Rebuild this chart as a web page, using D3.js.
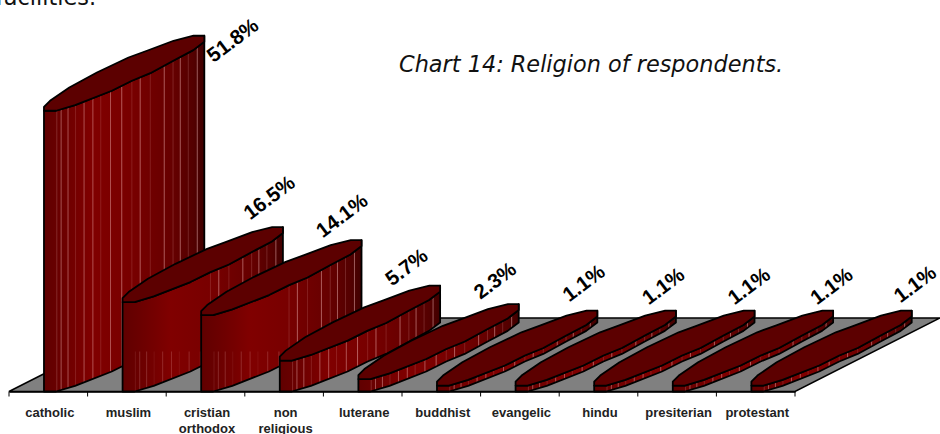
<!DOCTYPE html>
<html lang="en">
<head>
	<meta charset="UTF-8">
	<title>Chart 14</title>
	<style>
		html,body{margin:0;padding:0;background:#fff;overflow:hidden;}
		svg{display:block;}
	</style>
</head>
<body>
<script src="https://cdn.jsdelivr.net/npm/d3@7/dist/d3.min.js"></script>
<script>
	var categories=['catholic','muslim','cristian orthodox','non religious','luterane','buddhist','evangelic','hindu','presiterian','protestant'];
	var shares=[51.8,16.5,14.1,5.7,2.3,1.1,1.1,1.1,1.1,1.1];

	var width=940;
	var height=434;

	// floor of the 3d plot
	var floorFront=391.5;
	var floorBack=318;
	var floorSkew=145;

	var svg=d3.select('body')
			.append('svg')
			.attr('width',width)
			.attr('height',height);

	var xScale=d3.scaleBand()
			.domain(categories)
			.range([9,795]);

	var yScale=d3.scaleLinear()
			.domain([0,100])
			.range([floorFront,floorFront-542]);

	var barInset=xScale.bandwidth()*0.445;
	var barWide=xScale.bandwidth()*2.04;
	var barDeep=75;

	// outline of one column seen from above, fractions of barWide / barDeep
	var frontEdge=[[0,0],[.075,0],[.194,.075],[.423,.267],[.548,.4],[.663,.501],[.806,.667],[.931,.808],[1,.92]];
	var backEdge=[[0,.053],[.0375,.133],[.158,.311],[.33,.51],[.527,.71],[.642,.8],[.808,.933],[.933,1],[1,1]];

	// pale facet lines on the column side: [fraction of barWide, opacity]
	var facets=[[.08,.2],[.107,.4],[.15,.4],[.197,.15],[.25,.4],[.305,.4],[.354,.15],[.415,.4],[.485,.45],[.548,.15],[.6,.45],[.663,.15],[.75,.45],[.805,.18],[.85,.45],[.9,.18],[.956,.45]];

	// hand placed data labels in the original, dx/dy from the back right corner of the column
	var labelDx=[28,-14,-20,-34,-24,-14,-13,-6,-2,3];
	var labelDy=[4,-30,-25,-19,-24,-28,-25,-25,-25,-27];

	var defs=svg.append('defs');
	var grad=defs.append('linearGradient')
			.attr('id','side');
	[[0,'#600000'],[.12,'#6c0000'],[.3,'#800000'],[.55,'#780000'],[.8,'#660000'],[.93,'#540000'],[1,'#400000']].forEach(function(s){
		grad.append('stop').attr('offset',s[0]).attr('stop-color',s[1]);
	});

	var line=d3.line();

	// floor
	svg.append('path')
			.attr('d',line([[9,floorFront],[795,floorFront],[795+floorSkew,floorBack],[9+floorSkew,floorBack]])+'Z')
			.attr('fill','#808080')
			.attr('stroke','#000')
			.attr('stroke-width',1.5);

	// columns, left to right so that later ones cover earlier ones
	var bars=svg.selectAll('.bar')
			.data(categories)
			.enter()
			.append('g')
			.attr('class','bar');

	bars.each(function(d,i){
		var g=d3.select(this);
		var x0=xScale(d)+barInset;
		var top=yScale(shares[i]);

		function px(p,base){
			return [x0+p[0]*barWide,base-p[1]*barDeep];
		}
		var frontTop=frontEdge.map(function(p){return px(p,top);});
		var frontBottom=frontEdge.map(function(p){return px(p,floorFront);});
		var backTop=backEdge.map(function(p){return px(p,top);});

		var side=frontTop.concat([backTop[backTop.length-1]]).concat(frontBottom.slice().reverse());

		g.append('path')
				.attr('d',line(side)+'Z')
				.attr('fill','url(#side)');

		var clipId='clip'+i;
		defs.append('clipPath')
				.attr('id',clipId)
				.append('path')
				.attr('d',line(side)+'Z');

		// the tall front columns only show the left facets near the floor
		var tall=i>0&&(floorFront-top)>60;
		g.append('g')
				.attr('clip-path','url(#'+clipId+')')
				.selectAll('line')
				.data(facets)
				.enter()
				.append('line')
				.attr('x1',function(f){return x0+f[0]*barWide;})
				.attr('x2',function(f){return x0+f[0]*barWide;})
				.attr('y1',function(f){
					return tall&&f[0]<.5?floorFront-40:top-barDeep;
				})
				.attr('y2',floorFront)
				.attr('stroke','#ffc8c8')
				.attr('stroke-opacity',function(f){
					return tall&&f[0]<.5?f[1]*.5:f[1];
				})
				.attr('stroke-width',1);

		g.append('path')
				.attr('d',line(side)+'Z')
				.attr('fill','none')
				.attr('stroke','#000')
				.attr('stroke-width',1.8)
				.attr('stroke-linejoin','round');

		g.append('path')
				.attr('d',line(frontTop.concat(backTop.slice().reverse()))+'Z')
				.attr('fill','#5c0000')
				.attr('stroke','#000')
				.attr('stroke-width',1.8)
				.attr('stroke-linejoin','round');
	});

	// data labels
	svg.selectAll('.value')
			.data(categories)
			.enter()
			.append('text')
			.attr('class','value')
			.attr('text-anchor','middle')
			.attr('dominant-baseline','central')
			.attr('font-family','"Liberation Sans",Arial,sans-serif')
			.attr('font-weight','bold')
			.attr('font-size','20.5px')
			.attr('fill','#000')
			.attr('transform',function(d,i){
				var cx=xScale(d)+barInset+barWide+labelDx[i];
				var cy=yScale(shares[i])-barDeep+labelDy[i];
				return 'translate('+cx+','+cy+') rotate(-37)';
			})
			.text(function(d,i){
				return shares[i].toFixed(1)+'%';
			});

	// x axis, ticks sit on the band edges
	var xAxis=d3.axisBottom(xScale).tickSize(0).tickPadding(0);
	var axisG=svg.append('g')
			.attr('class','xAxis')
			.attr('transform','translate(0,'+floorFront+')')
			.call(xAxis);
	axisG.select('.domain')
			.attr('stroke','#000')
			.attr('stroke-width',1.5);
	axisG.selectAll('.tick text').remove();
	axisG.selectAll('.tick')
			.append('text')
			.attr('text-anchor','middle')
			.attr('font-family','"Liberation Sans",Arial,sans-serif')
			.attr('font-weight','bold')
			.attr('font-size','13px')
			.attr('fill','#222')
			.each(function(d){
				var t=d3.select(this);
				d.split(' ').forEach(function(w,k){
					t.append('tspan')
							.attr('x',1.5)
							.attr('y',25+k*16.5)
							.text(w);
				});
			});
	axisG.selectAll('.edge')
			.data(d3.range(categories.length+1))
			.enter()
			.append('line')
			.attr('class','edge')
			.attr('x1',function(i){return 9+i*xScale.step();})
			.attr('x2',function(i){return 9+i*xScale.step();})
			.attr('y1',0)
			.attr('y2',5)
			.attr('stroke','#000')
			.attr('stroke-width',1);

	// text around the chart
	svg.append('text')
			.attr('x',399)
			.attr('y',72)
			.attr('font-family','"DejaVu Sans",Verdana,sans-serif')
			.attr('font-style','italic')
			.attr('font-size','22.4px')
			.attr('fill','#111')
			.text('Chart 14: Religion of respondents.');

	svg.append('text')
			.attr('x',96)
			.attr('y',5)
			.attr('text-anchor','end')
			.attr('font-family','"DejaVu Sans",Verdana,sans-serif')
			.attr('font-size','22.4px')
			.attr('fill','#111')
			.text('facilities.');
</script>
</body>
</html>
